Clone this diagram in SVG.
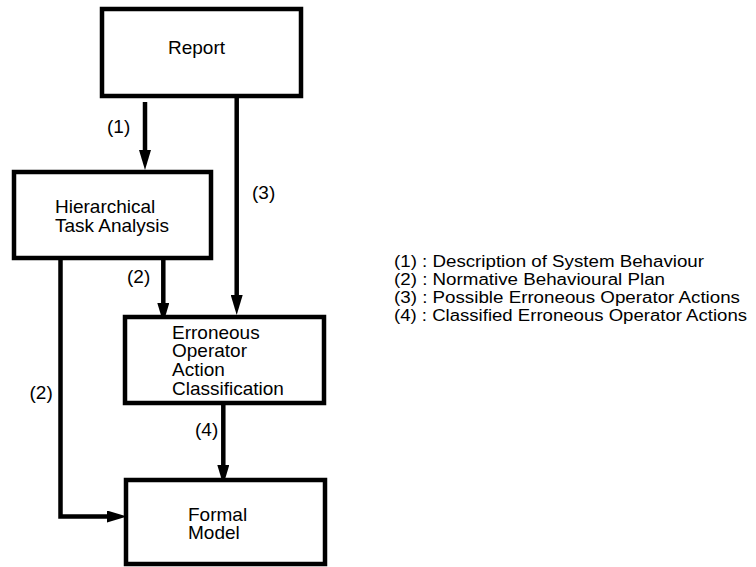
<svg xmlns="http://www.w3.org/2000/svg" width="756" height="567" viewBox="0 0 756 567">
<style>
.box{fill:#fff;stroke:#000;stroke-width:4.5}
.t{font-family:"Liberation Sans",Arial,sans-serif;font-size:19px;fill:#000}
.lg{font-family:"Liberation Sans",Arial,sans-serif;font-size:16px;fill:#000}
.c{fill:none;stroke:#000;stroke-width:4.5;marker-end:url(#arr)}
</style>
<defs>
<marker id="arr" viewBox="0 0 20 12" refX="0" refY="6" markerWidth="20" markerHeight="12" orient="auto" markerUnits="userSpaceOnUse">
<path d="M0,0 L20,6 L0,12 z" fill="#000"/>
</marker>
</defs>
<rect width="756" height="567" fill="#fff"/>
<g id="connectors">
<path class="c" d="M145,102 V150"/>
<path class="c" d="M236.7,98 V295"/>
<path class="c" d="M163.3,260 V303"/>
<path class="c" d="M60.5,260 V516.5 H107"/>
<path class="c" d="M223.3,405 V465"/>
<text class="t" x="107" y="133">(1)</text>
<text class="t" x="252" y="199">(3)</text>
<text class="t" x="127" y="282.5">(2)</text>
<text class="t" x="29.5" y="399">(2)</text>
<text class="t" x="195" y="436">(4)</text>
</g>
<g id="report">
<rect class="box" x="102" y="9" width="199" height="87"/>
<text class="t" x="168" y="54">Report</text>
</g>
<g id="hta">
<rect class="box" x="14" y="172" width="197" height="86"/>
<text class="t" x="55" y="213">Hierarchical</text>
<text class="t" x="55" y="231.7">Task Analysis</text>
</g>
<g id="eoac">
<rect class="box" x="125" y="317" width="199" height="86"/>
<text class="t" x="172" y="338.5">Erroneous</text>
<text class="t" x="172" y="357.3">Operator</text>
<text class="t" x="172" y="376.1">Action</text>
<text class="t" x="172" y="395">Classification</text>
</g>
<g id="formal">
<rect class="box" x="126" y="480" width="199" height="84"/>
<text class="t" x="188" y="520.7">Formal</text>
<text class="t" x="188" y="539.3">Model</text>
</g>
<g id="legend">
<text class="lg" x="394" y="267" textLength="310" lengthAdjust="spacingAndGlyphs">(1) : Description of System Behaviour</text>
<text class="lg" x="394" y="285" textLength="271" lengthAdjust="spacingAndGlyphs">(2) : Normative Behavioural Plan</text>
<text class="lg" x="394" y="303" textLength="346" lengthAdjust="spacingAndGlyphs">(3) : Possible Erroneous Operator Actions</text>
<text class="lg" x="394" y="321" textLength="353" lengthAdjust="spacingAndGlyphs">(4) : Classified Erroneous Operator Actions</text>
</g>
</svg>
